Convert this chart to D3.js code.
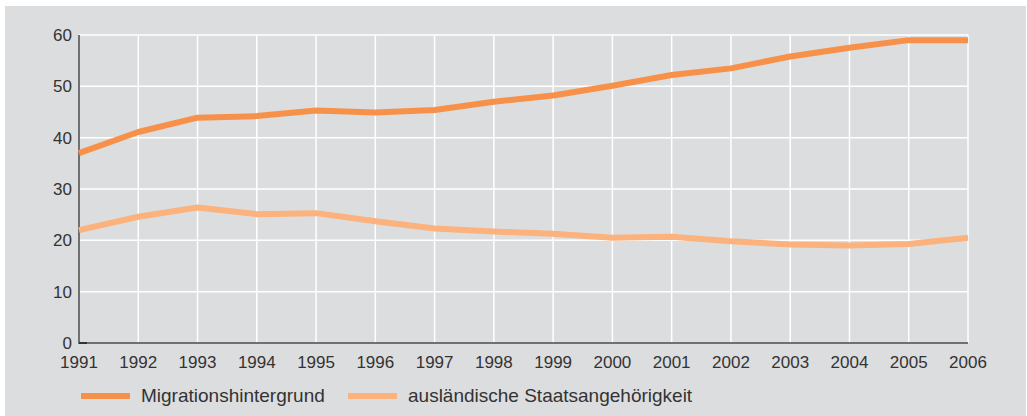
<!DOCTYPE html>
<html>
<head>
<meta charset="utf-8">
<script src="https://cdn.jsdelivr.net/npm/d3@7"></script>
<style>
  html, body { margin: 0; padding: 0; background: #fff; }
  svg { display: block; }
  text { font-family: "Liberation Sans", Arial, sans-serif; fill: #333; }
</style>
</head>
<body>
<svg id="chart" width="1027" height="416"></svg>
<script>
const years = d3.range(1991, 2007);
const migration = [37.0, 41.1, 43.9, 44.2, 45.3, 44.9, 45.4, 47.0, 48.2, 50.1, 52.2, 53.5, 55.8, 57.5, 59.0, 59.0];
const foreign = [22.0, 24.6, 26.4, 25.1, 25.3, 23.7, 22.3, 21.7, 21.3, 20.5, 20.7, 19.8, 19.2, 19.0, 19.3, 20.5];
const yTicks = [0, 10, 20, 30, 40, 50, 60];
const seriesNames = ["Migrationshintergrund", "ausländische Staatsangehörigkeit"];
const seriesColors = ["#f7914a", "#fbb27c"];

const svg = d3.select("#chart");

svg.append("rect")
  .attr("x", 5).attr("y", 6)
  .attr("width", 1021).attr("height", 410)
  .attr("fill", "#dcdddf");

const plotL = 79, plotR = 968, plotT = 35, plotB = 343;

const x = d3.scaleLinear().domain([1991, 2006]).range([plotL, plotR]);
const y = d3.scaleLinear().domain([0, 60]).range([plotB, plotT]);

// grid
svg.append("g")
  .selectAll("line")
  .data(yTicks.filter((d) => d > 0))
  .join("line")
  .attr("x1", plotL).attr("x2", plotR)
  .attr("y1", (d) => y(d)).attr("y2", (d) => y(d))
  .attr("stroke", "#fff").attr("stroke-width", 1.5);

svg.append("g")
  .selectAll("line")
  .data(years.slice(1))
  .join("line")
  .attr("x1", (d) => x(d)).attr("x2", (d) => x(d))
  .attr("y1", plotT).attr("y2", plotB)
  .attr("stroke", "#fff").attr("stroke-width", 1.5);

// axes
svg.append("line")
  .attr("x1", plotL).attr("x2", plotR)
  .attr("y1", plotB).attr("y2", plotB)
  .attr("stroke", "#707070").attr("stroke-width", 2);
svg.append("line")
  .attr("x1", plotL).attr("x2", plotL)
  .attr("y1", plotT).attr("y2", plotB + 1)
  .attr("stroke", "#707070").attr("stroke-width", 2);
svg.append("line")
  .attr("x1", plotL).attr("x2", plotL + 8)
  .attr("y1", plotB).attr("y2", plotB)
  .attr("stroke", "#333").attr("stroke-width", 2);

// tick labels
svg.append("g")
  .selectAll("text")
  .data(yTicks)
  .join("text")
  .attr("x", 72)
  .attr("y", (d) => y(d) + 6)
  .attr("text-anchor", "end")
  .style("font-size", "17px")
  .text((d) => d);

svg.append("g")
  .selectAll("text")
  .data(years)
  .join("text")
  .attr("x", (d) => x(d))
  .attr("y", 368)
  .attr("text-anchor", "middle")
  .style("font-size", "17px")
  .text((d) => d);

// lines
const line = d3.line()
  .x((d, i) => x(years[i]))
  .y((d) => y(d));

[foreign, migration].forEach((s, k) => {
  svg.append("path")
    .datum(s)
    .attr("d", line)
    .attr("fill", "none")
    .attr("stroke", k === 0 ? seriesColors[1] : seriesColors[0])
    .attr("stroke-width", 6)
    .attr("stroke-linejoin", "round");
});

// legend
const legendX = [81, 348];
seriesNames.forEach((name, i) => {
  const g = svg.append("g").attr("transform", `translate(${legendX[i]},396)`);
  g.append("line")
    .attr("x1", 0).attr("x2", 49)
    .attr("stroke", seriesColors[i]).attr("stroke-width", 6);
  g.append("text")
    .attr("x", 60).attr("y", 6)
    .style("font-size", "19px")
    .text(name);
});
</script>
</body>
</html>
